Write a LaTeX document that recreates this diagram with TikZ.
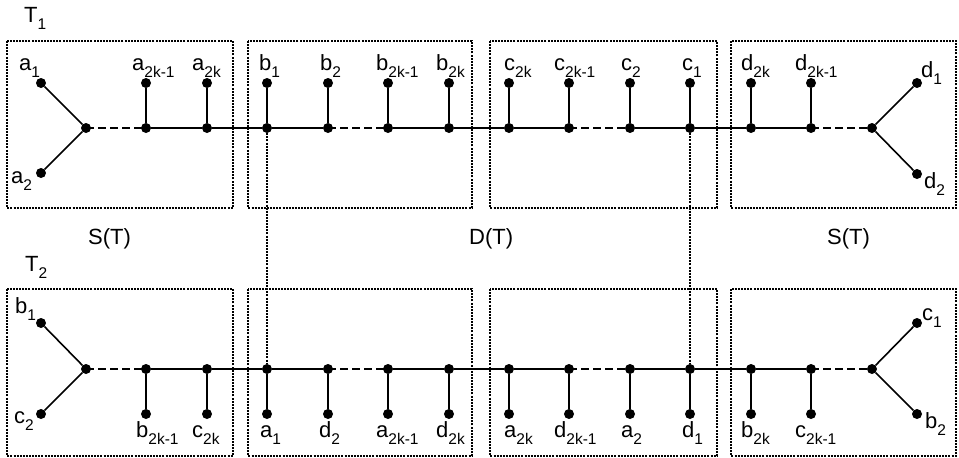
\documentclass[tikz,border=0pt]{standalone}
\usepackage{fontspec}
\setmainfont{Liberation Sans}
\newcommand\lab[2]{#1\raisebox{-7pt}{\fontsize{15.5}{15.5}\selectfont #2}}
\begin{document}
\begin{tikzpicture}[x=1pt,y=-1pt,
  dot/.style={circle,fill=black,inner sep=0pt,minimum size=10pt},
  lbl/.style={inner sep=0pt,anchor=base west,font=\fontsize{22}{26}\selectfont},
  region/.style={draw,line width=1.5pt,dash pattern=on 2pt off 1.1pt},
  solidedge/.style={line width=1.6pt},
  dashedge/.style={line width=2.3pt,dash pattern=on 8pt off 4pt},
  link/.style={line width=1.4pt,dash pattern=on 2pt off 1.1pt}]
\useasboundingbox (0,0) rectangle (959,458);
% boxes
\foreach \r/\y in {top/41,bot/289}{
  \foreach \i/\a/\b in {1/7/233,2/248/472,3/490/717,4/731/956}{
    \draw[region] (\a,\y) rectangle (\b,\y+167);
  }
}
% backbone nodes
\foreach \i/\x in {1/86,2/146,3/207,4/267,5/328,6/388,7/449,8/509,9/569,10/630,11/690,12/751,13/811,14/872}{
  \node[dot] (t\i) at (\x,128) {};
  \node[dot] (b\i) at (\x,369) {};
}
\foreach \i/\x in {2/146,3/207,4/267,5/328,6/388,7/449,8/509,9/569,10/630,11/690,12/751,13/811}{
  \node[dot] (tl\i) at (\x,83) {};
  \node[dot] (bl\i) at (\x,414) {};
  \draw[solidedge] (t\i) -- (tl\i);
  \draw[solidedge] (b\i) -- (bl\i);
}
% Y leaves
\node[dot] (ta1) at (41,83) {};
\node[dot] (ta2) at (41,173) {};
\node[dot] (td1) at (917,83) {};
\node[dot] (td2) at (917,174) {};
\node[dot] (bb1) at (41,323) {};
\node[dot] (bc2) at (41,414) {};
\node[dot] (bc1) at (917,323) {};
\node[dot] (bb2) at (917,414) {};
\draw[solidedge] (t1) -- (ta1);
\draw[solidedge] (t1) -- (ta2);
\draw[solidedge] (t14) -- (td1);
\draw[solidedge] (t14) -- (td2);
\draw[solidedge] (b1) -- (bb1);
\draw[solidedge] (b1) -- (bc2);
\draw[solidedge] (b14) -- (bc1);
\draw[solidedge] (b14) -- (bb2);
% backbone edges
\foreach \r in {t,b}{
  \foreach \i/\j in {1/2,5/6,9/10,13/14}{
    \draw[dashedge] (\r\i.center) -- (\r\j.center);
  }
  \foreach \i/\j in {2/3,3/4,4/5,6/7,7/8,8/9,10/11,11/12,12/13}{
    \draw[solidedge] (\r\i) -- (\r\j);
  }
}
% vertical links
\draw[link] (t4) -- (b4);
\draw[link] (t11) -- (b11);
% top labels
\node[lbl] (Lta1) at (19,70) {\lab{a}{1}};
\node[lbl] (Lta2) at (11,183) {\lab{a}{2}};
\node[lbl] (Ltd1) at (921,77) {\lab{d}{1}};
\node[lbl] (Ltd2) at (924,188) {\lab{d}{2}};
\foreach \n/\x/\l/\s in {2/132/a/2k-1,3/192/a/2k,4/259/b/1,5/320/b/2,6/376/b/2k-1,7/436/b/2k,8/504/c/2k,9/554/c/2k-1,10/621/c/2,11/682/c/1,12/741/d/2k,13/795/d/2k-1}{
  \node[lbl] (Lt\n) at (\x,70) {\lab{\l}{\s}};
}
% bottom labels
\node[lbl] (Lbb1) at (15,313) {\lab{b}{1}};
\node[lbl] (Lbc2) at (14,423) {\lab{c}{2}};
\node[lbl] (Lbc1) at (922,320) {\lab{c}{1}};
\node[lbl] (Lbb2) at (925,428) {\lab{b}{2}};
\foreach \n/\x/\l/\s in {2/136/b/2k-1,3/192/c/2k,4/260/a/1,5/319/d/2,6/376/a/2k-1,7/436/d/2k,8/504/a/2k,9/554/d/2k-1,10/621/a/2,11/682/d/1,12/741/b/2k,13/795/c/2k-1}{
  \node[lbl] (Lb\n) at (\x,437) {\lab{\l}{\s}};
}
% titles
\node[lbl] (T1) at (24,22) {\lab{T}{1}};
\node[lbl] (T2) at (25,271) {\lab{T}{2}};
\node[lbl] (S1) at (88,244) {S(T)};
\node[lbl] (D1) at (469,244) {D(T)};
\node[lbl] (S2) at (827,244) {S(T)};
\end{tikzpicture}
\end{document}
